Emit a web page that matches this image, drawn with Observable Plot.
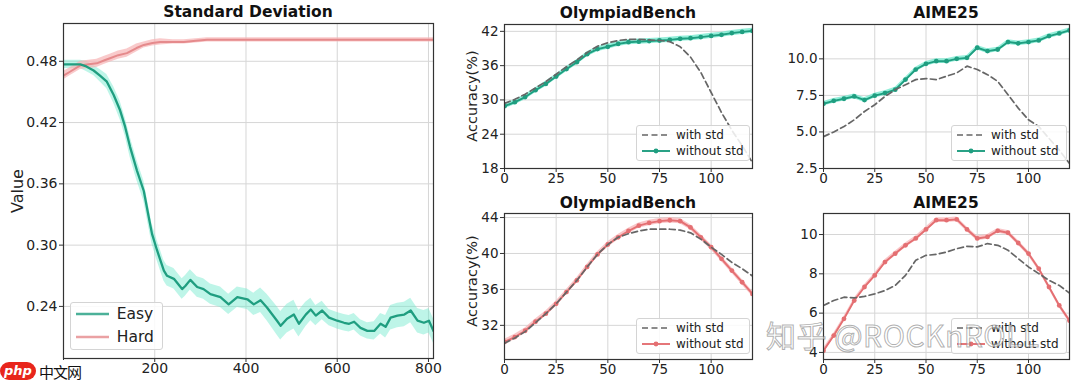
<!DOCTYPE html>
<html><head><meta charset="utf-8">
<script src="https://cdn.jsdelivr.net/npm/d3@7"></script>
<script src="https://cdn.jsdelivr.net/npm/@observablehq/plot@0.6"></script>
<style>
body{margin:0;background:#fff;font-family:"DejaVu Sans",sans-serif;}
#wrap{position:relative;width:1080px;height:382px;overflow:hidden;background:#fff}
.panel{position:absolute}
.title{position:absolute;font-weight:bold;font-size:15.5px;line-height:17px;color:#111;transform:translateX(-50%);white-space:nowrap}
.ylab{position:absolute;font-size:14.5px;color:#222;transform:translate(-50%,-50%) rotate(-90deg);white-space:nowrap}
.legend{position:absolute;background:rgba(255,255,255,0.85);border:1px solid #d4d4d4;border-radius:3px;box-sizing:border-box}
.legend .row{position:absolute;display:flex;align-items:center;white-space:nowrap;color:#222}
.wm{position:absolute;white-space:nowrap}
</style>
</head><body>
<div id="wrap"></div>
<script>
// ---------- data ----------
const easyStep = [0,20,37,50,66,80,95,110,124,135,146,161,176,187,194,205,220,227,242,260,267,278,293,307,322,344,362,381,403,417,432,446,468,476,490,505,516,531,542,553,567,582,600,615,626,637,651,666,681,695,706,717,732,747,761,776,790,801,811];
const easyVal  = [.477,.477,.477,.475,.471,.466,.460,.447,.432,.416,.396,.373,.353,.327,.311,.295,.275,.270,.267,.257,.260,.266,.259,.257,.252,.249,.242,.249,.247,.242,.246,.239,.226,.221,.228,.232,.223,.232,.237,.231,.236,.229,.226,.224,.223,.225,.219,.216,.216,.223,.220,.229,.231,.232,.236,.226,.224,.226,.216];
const easyBand = [.004,.004,.004,.005,.005,.006,.007,.008,.009,.009,.010,.010,.010,.010,.010,.010,.010,.010,.010,.010,.010,.010,.010,.010,.010,.010,.010,.010,.010,.011,.012,.013,.014,.014,.014,.014,.013,.012,.011,.010,.009,.008,.008,.008,.008,.008,.008,.008,.009,.010,.011,.012,.012,.012,.012,.012,.012,.012,.012];
const hardStep = [0,15,37,55,73,90,102,120,139,160,176,195,212,240,264,290,315,400,500,600,700,811];
const hardVal  = [.466,.470,.476,.477,.478,.481,.483,.486,.488,.493,.496,.498,.499,.499,.499,.500,.501,.501,.501,.501,.501,.501];
const hardBand = [.004,.004,.004,.004,.004,.004,.004,.004,.004,.004,.003,.003,.003,.002,.002,.002,.002,.002,.002,.002,.002,.002];

const steps = [0,5,10,15,20,25,30,35,40,45,50,55,60,65,70,75,80,85,90,95,100,105,110,115,120];
const olyTopWith    = [29.4,30.1,31.0,32.1,33.2,34.5,35.8,37.0,38.3,39.4,40.0,40.4,40.6,40.6,40.5,40.4,40.2,39.3,37.5,34.8,31.3,27.8,24.7,22.0,19.0];
const olyTopWithout = [28.9,29.6,30.5,31.7,32.8,34.1,35.4,36.6,38.0,38.9,39.3,39.8,40.1,40.2,40.3,40.4,40.5,40.7,40.8,41.0,41.2,41.4,41.7,41.9,42.1];
const aimeTopWith    = [4.68,5.0,5.37,5.83,6.4,6.86,7.43,7.89,8.23,8.58,8.65,8.58,8.81,9.04,9.5,9.27,8.92,8.46,7.55,6.63,5.83,5.37,4.56,3.76,2.84];
const aimeTopWithout = [6.93,7.13,7.27,7.43,7.18,7.48,7.66,7.89,8.58,9.27,9.66,9.84,9.84,10.0,10.07,10.76,10.53,10.64,11.15,11.06,11.15,11.26,11.56,11.74,11.95];
const olyBotWith    = [30.0,30.6,31.3,32.3,33.3,34.4,35.7,37.0,38.5,39.9,41.0,41.8,42.2,42.5,42.7,42.7,42.7,42.6,42.3,41.6,40.7,39.9,39.0,38.3,37.5];
const olyBotWithout = [30.15,30.7,31.4,32.4,33.3,34.4,35.7,37.0,38.5,39.9,41.0,41.8,42.5,43.1,43.4,43.6,43.7,43.6,42.9,41.8,40.7,39.4,38.1,36.8,35.5];
const aimeBotWith    = [6.39,6.64,6.81,6.78,6.85,6.98,7.15,7.41,7.92,8.69,8.94,8.99,9.11,9.28,9.40,9.37,9.54,9.45,9.20,8.77,8.35,8.01,7.67,7.41,7.02];
const aimeBotWithout = [4.09,4.86,5.71,6.64,7.33,7.92,8.60,9.03,9.45,9.80,10.26,10.73,10.73,10.77,10.26,9.80,9.88,10.19,10.09,9.57,9.03,8.26,7.33,6.39,5.62];

const stdTicksX = [0,200,400,600,800];
const stdTicksY = [0.24,0.30,0.36,0.42,0.48];
const stepTicks = [0,25,50,75,100];
const olyTopTicks = [18,24,30,36,42];
const aimeTopTicks = [2.5,5.0,7.5,10.0];
const olyBotTicks = [32,36,40,44];
const aimeBotTicks = [4,6,8,10];
const bandOlyTop = 0.45, bandAimeTop = 0.16, bandOlyBot = 0.3, bandAimeBot = 0.12;

// ---------- colours ----------
const GREEN = "#1f9e80", GREEN_BAND = "#6fe8cc", RED = "#e46f72", RED_BAND = "#f7b3b5", HARD = "#e58a8c", GRAY = "#666";

const wrap = document.getElementById("wrap");
const zip = (xs, ys, bs) => xs.map((x, i) => ({x, y: ys[i], b: bs ? (Array.isArray(bs) ? bs[i] : bs) : 0}));

function panel({left, top, width, height, ml, mr, mt, mb, xDomain, xTicks, yDomain, yTicks, yFormat, fontSize, marks}) {
  const svg = Plot.plot({
    width, height, marginLeft: ml, marginRight: mr, marginTop: mt, marginBottom: mb,
    style: {fontFamily: "DejaVu Sans", fontSize: fontSize + "px", color: "#222", background: "transparent", overflow: "visible"},
    x: {domain: xDomain},
    y: {domain: yDomain},
    marks: [
      Plot.gridX(xTicks, {stroke: "#d6d6d6", strokeOpacity: 1, strokeWidth: 1}),
      Plot.gridY(yTicks, {stroke: "#d6d6d6", strokeOpacity: 1, strokeWidth: 1}),
      ...marks,
      Plot.frame({stroke: "#333", strokeWidth: 1.2}),
      Plot.axisX(xTicks, {tickSize: 4, tickPadding: 1, label: null, stroke: "#333"}),
      Plot.axisY(yTicks, {tickSize: 4, tickPadding: 2, label: null, tickFormat: yFormat, stroke: "#333"})
    ]
  });
  const d = document.createElement("div");
  d.className = "panel";
  d.style.left = left + "px"; d.style.top = top + "px";
  d.appendChild(svg);
  wrap.appendChild(d);
}

function accMarks(withVals, withoutVals, band, color, bandColor) {
  const w = zip(steps, withVals), wo = zip(steps, withoutVals, band);
  return [
    Plot.areaY(wo, {x: "x", y1: d => d.y - d.b, y2: d => d.y + d.b, fill: bandColor, fillOpacity: 0.75, clip: true}),
    Plot.line(wo, {x: "x", y: "y", stroke: color, strokeWidth: 1.9, clip: true}),
    Plot.dot(wo, {x: "x", y: "y", r: 2.4, fill: color, clip: true}),
    Plot.line(w, {x: "x", y: "y", stroke: GRAY, strokeWidth: 1.7, strokeDasharray: "6,3.5", clip: true})
  ];
}

// Standard deviation panel
const easy = zip(easyStep, easyVal, easyBand), hard = zip(hardStep, hardVal, hardBand);
panel({left: 0, top: 0, width: 440, height: 382, ml: 63, mr: 7, mt: 23, mb: 24, fontSize: 14,
  xDomain: [0, 811], xTicks: stdTicksX, yDomain: [0.189, 0.517], yTicks: stdTicksY, yFormat: ".2f",
  marks: [
    Plot.areaY(easy, {x: "x", y1: d => d.y - d.b, y2: d => d.y + d.b, fill: GREEN_BAND, fillOpacity: 0.45, clip: true}),
    Plot.areaY(hard, {x: "x", y1: d => d.y - d.b, y2: d => d.y + d.b, fill: RED_BAND, fillOpacity: 0.7, clip: true}),
    Plot.line(hard, {x: "x", y: "y", stroke: HARD, strokeWidth: 2, clip: true}),
    Plot.line(easy, {x: "x", y: "y", stroke: GREEN, strokeWidth: 2.3, clip: true})
  ]});

panel({left: 450, top: 0, width: 310, height: 190, ml: 54, mr: 8, mt: 24, mb: 22, fontSize: 13.5,
  xDomain: [0, 120], xTicks: stepTicks, yDomain: [18, 43.2], yTicks: olyTopTicks, yFormat: "d",
  marks: accMarks(olyTopWith, olyTopWithout, bandOlyTop, GREEN, GREEN_BAND)});
panel({left: 770, top: 0, width: 310, height: 190, ml: 53, mr: 11, mt: 24, mb: 22, fontSize: 13.5,
  xDomain: [0, 120], xTicks: stepTicks, yDomain: [2.5, 12.35], yTicks: aimeTopTicks, yFormat: ".1f",
  marks: accMarks(aimeTopWith, aimeTopWithout, bandAimeTop, GREEN, GREEN_BAND)});
panel({left: 450, top: 190, width: 310, height: 192, ml: 54, mr: 8, mt: 23, mb: 23, fontSize: 13.5,
  xDomain: [0, 120], xTicks: stepTicks, yDomain: [28.2, 44.45], yTicks: olyBotTicks, yFormat: "d",
  marks: accMarks(olyBotWith, olyBotWithout, bandOlyBot, RED, RED_BAND)});
panel({left: 770, top: 190, width: 310, height: 192, ml: 53, mr: 11, mt: 23, mb: 23, fontSize: 13.5,
  xDomain: [0, 120], xTicks: stepTicks, yDomain: [3.64, 11.07], yTicks: aimeBotTicks, yFormat: "d",
  marks: accMarks(aimeBotWith, aimeBotWithout, bandAimeBot, RED, RED_BAND)});

// ---------- titles & labels ----------
function addDiv(cls, text, x, y) {
  const d = document.createElement("div");
  d.className = cls; d.textContent = text;
  d.style.left = x + "px"; d.style.top = y + "px";
  wrap.appendChild(d); return d;
}
addDiv("title", "Standard Deviation", 248, 4);
addDiv("title", "OlympiadBench", 628, 5);
addDiv("title", "AIME25", 946, 5);
addDiv("title", "OlympiadBench", 628, 195);
addDiv("title", "AIME25", 946, 195);
addDiv("ylab", "Value", 17, 191).style.fontSize = "16px";
addDiv("ylab", "Accuracy(%)", 472, 96);
addDiv("ylab", "Accuracy(%)", 472, 281);

// ---------- legends ----------
function legend(x, y, w, h, rows, fs, sampleW, rowGap, firstRow) {
  const L = document.createElement("div");
  L.className = "legend";
  Object.assign(L.style, {left: x + "px", top: y + "px", width: w + "px", height: h + "px"});
  rows.forEach((r, i) => {
    const row = document.createElement("div");
    row.className = "row";
    row.style.left = "5px"; row.style.top = (firstRow + i * rowGap) + "px";
    row.style.fontSize = fs + "px";
    const dash = r.dash ? `stroke-dasharray="6,3.5"` : "";
    const dot = r.dot ? `<circle cx="${sampleW / 2}" cy="6" r="2.4" fill="${r.color}"/>` : "";
    row.innerHTML = `<svg width="${sampleW}" height="12" style="margin-right:${fs * 0.5}px"><line x1="0" y1="6" x2="${sampleW}" y2="6" stroke="${r.color}" stroke-width="${r.sw || 1.9}" stroke-opacity="${r.op || 1}" ${dash}/>${dot}</svg><span>${r.label}</span>`;
    L.appendChild(row);
  });
  wrap.appendChild(L);
}
legend(70, 302, 93, 48, [{label: "Easy", color: GREEN, sw: 2.3, op: 0.8}, {label: "Hard", color: HARD, sw: 2.3, op: 0.8}], 15.5, 33, 23, 2);
legend(636, 125, 114, 36, [{label: "with std", color: GRAY, dash: true, sw: 1.7}, {label: "without std", color: GREEN, dot: true}], 12, 28, 16, 2);
legend(951, 125, 116, 36, [{label: "with std", color: GRAY, dash: true, sw: 1.7}, {label: "without std", color: GREEN, dot: true}], 12, 28, 16, 2);
legend(636, 318, 114, 36, [{label: "with std", color: GRAY, dash: true, sw: 1.7}, {label: "without std", color: RED, dot: true}], 12, 28, 16, 2);
legend(951, 318, 116, 36, [{label: "with std", color: GRAY, dash: true, sw: 1.7}, {label: "without std", color: RED, dot: true}], 12, 28, 16, 2);

// ---------- watermarks ----------
const wm = document.createElement("div");
wm.className = "wm";
Object.assign(wm.style, {left: "0px", top: "360px", height: "22px", display: "flex", alignItems: "center", background: "#fff", paddingRight: "2px"});
wm.innerHTML = `<span style="display:inline-block;background:#e8251c;color:#fff;font:bold italic 13px 'DejaVu Sans';border-radius:10px;padding:1px 4px 2px 4px;line-height:15px">php</span><span style="font:15px 'Noto Sans CJK SC';color:#111;margin-left:3px;letter-spacing:-1px">中文网</span>`;
wrap.appendChild(wm);
const zh = document.createElement("div");
zh.className = "wm";
Object.assign(zh.style, {left: "766px", top: "312px", font: "30px 'Noto Sans CJK SC'", color: "rgba(255,255,255,0.55)", WebkitTextStroke: "1px rgba(110,110,110,0.55)", letterSpacing: "0.5px"});
zh.textContent = "知乎 @ROCKnROLL";
wrap.appendChild(zh);
</script>
</body></html>
